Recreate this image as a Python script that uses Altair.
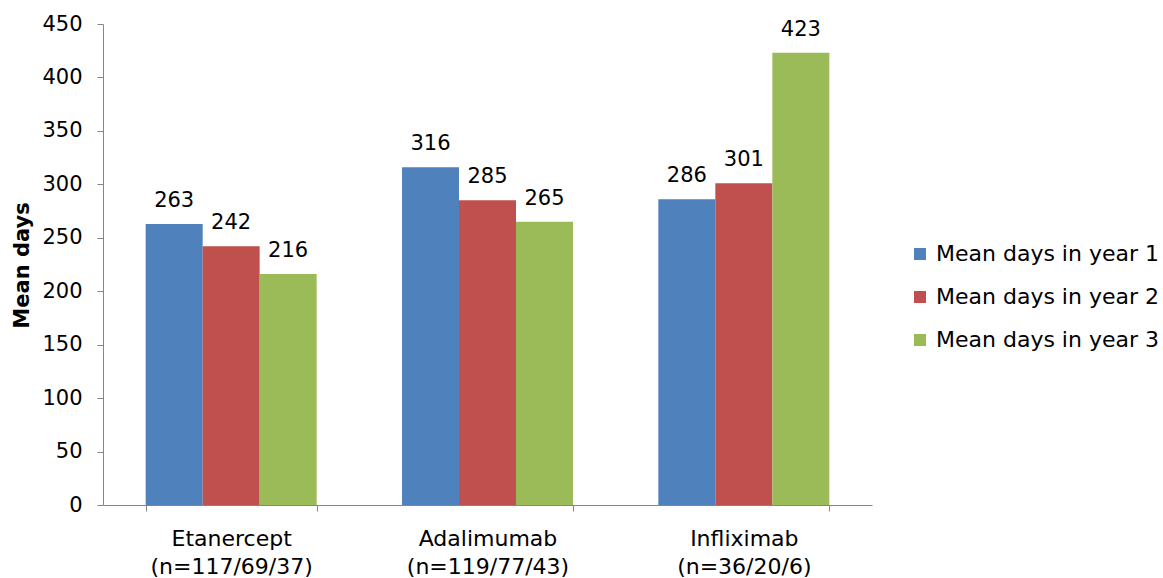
import altair as alt
import pandas as pd

# Mean treatment days per biologic, years 1-3
drugs = ["Etanercept", "Adalimumab", "Infliximab"]
patient_counts = ["(n=117/69/37)", "(n=119/77/43)", "(n=36/20/6)"]
series = ["Mean days in year 1", "Mean days in year 2", "Mean days in year 3"]
year1 = [263, 316, 286]
year2 = [242, 285, 301]
year3 = [216, 265, 423]
colors = ["#4F81BD", "#C0504D", "#9BBB59"]
y_ticks = [0, 50, 100, 150, 200, 250, 300, 350, 400, 450]

FONT = "DejaVu Sans"
AXIS_GREY = "#868686"

labels = [f"{d}|{n}" for d, n in zip(drugs, patient_counts)]
rows = []
for i, lab in enumerate(labels):
    for s, vals in zip(series, [year1, year2, year3]):
        rows.append({"drug": lab, "series": s, "days": vals[i]})
df = pd.DataFrame(rows)

base = alt.Chart(df).encode(
    x=alt.X(
        "drug:N",
        sort=labels,
        scale=alt.Scale(paddingInner=0.333, paddingOuter=0.1665),
        axis=alt.Axis(
            title=None,
            labelAngle=0,
            labelExpr="split(datum.label, '|')",
            labelFont=FONT,
            labelFontSize=22,
            labelColor="#000000",
            labelLineHeight=28,
            labelPadding=17,
            tickBand="extent",
            tickSize=6,
            tickColor=AXIS_GREY,
            domainColor=AXIS_GREY,
        ),
    ),
    xOffset=alt.XOffset("series:N", sort=series,
                        scale=alt.Scale(paddingInner=0, paddingOuter=0)),
    y=alt.Y(
        "days:Q",
        scale=alt.Scale(domain=[0, 450], nice=False),
        axis=alt.Axis(
            values=y_ticks,
            grid=False,
            title="Mean days",
            titleFont=FONT,
            titleFontSize=21,
            titleFontWeight="bold",
            titleColor="#000000",
            titleAngle=-90,
            titleAlign="center",
            titleBaseline="alphabetic",
            titleX=-75,
            titleY=241,
            labelFont=FONT,
            labelFontSize=21,
            labelColor="#000000",
            labelPadding=15,
            tickSize=6,
            tickColor=AXIS_GREY,
            domainColor=AXIS_GREY,
        ),
    ),
)

bars = base.mark_bar().encode(
    color=alt.Color(
        "series:N",
        sort=series,
        scale=alt.Scale(domain=series, range=colors),
        legend=alt.Legend(
            title=None,
            orient="none",
            legendX=806,
            legendY=219,
            symbolType="square",
            symbolSize=144,
            symbolStrokeWidth=0,
            labelFont=FONT,
            labelFontSize=22,
            labelColor="#000000",
            labelLimit=400,
            labelOffset=5,
            rowPadding=21,
            padding=0,
        ),
    )
)

values = base.mark_text(
    dy=-17, baseline="alphabetic", font=FONT, fontSize=21, color="#000000"
).encode(text="days:Q")

chart = (bars + values).properties(
    width=769,
    height=481,
    autosize=alt.AutoSizeParams(type="none"),
    padding={"left": 103, "top": 24, "right": 291, "bottom": 73},
    background="#FFFFFF",
).configure_view(stroke=None)

chart.save("out.html", embed_options={"renderer": "svg", "actions": False})
